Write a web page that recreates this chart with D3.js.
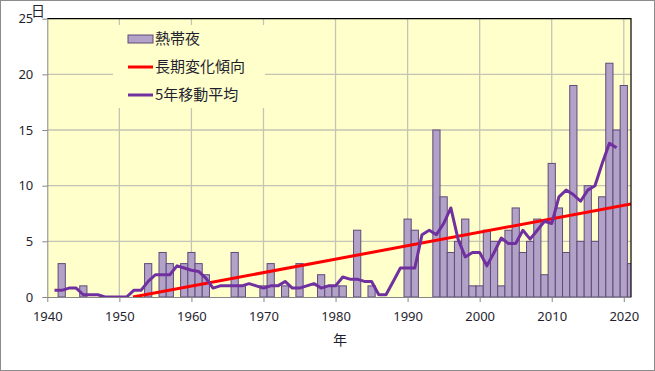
<!DOCTYPE html>
<html>
<head>
    <meta charset="UTF-8">
    <title>熱帯夜</title>
    <style>
        html, body { margin: 0; padding: 0; background: #fff; }
        text { font-family: 'Noto Sans', 'Noto Sans CJK JP', sans-serif; }
        .jp { font-family: 'Noto Sans CJK JP', sans-serif; }
    </style>
</head>
<body>
    <div id="app"></div>

    <script src="https://d3js.org/d3.v7.min.js"></script>
    <script>
        // 熱帯夜の日数 (1940-2021)
        let years = d3.range(1940, 2022)
        let nights = [
            0, 0, 3, 0, 0, 1, 0, 0, 0, 0,      // 1940-49
            0, 0, 0, 0, 3, 0, 4, 3, 0, 3,      // 1950-59
            4, 3, 2, 0, 0, 0, 4, 1, 0, 0,      // 1960-69
            1, 3, 0, 1, 0, 3, 0, 0, 2, 1,      // 1970-79
            1, 1, 0, 6, 0, 1, 0, 0, 0, 0,      // 1980-89
            7, 6, 0, 0, 15, 9, 4, 5, 7, 1,     // 1990-99
            1, 6, 5, 1, 6, 8, 4, 5, 7, 2,      // 2000-09
            12, 8, 4, 19, 5, 10, 5, 9, 21, 15, // 2010-19
            19, 3                              // 2020-21
        ]

        // 5年移動平均 (1941-2019)
        let maYears = d3.range(1941, 2020)
        let maValues = [
            0.6, 0.6, 0.8, 0.8, 0.2, 0.2, 0.2, 0, 0,          // 1941-49
            0, 0, 0.6, 0.6, 1.4, 2.0, 2.0, 2.0, 2.8, 2.6,     // 1950-59
            2.4, 2.3, 1.7, 0.8, 1.0, 1.0, 1.0, 1.0, 1.2, 1.0, // 1960-69
            0.8, 1.0, 1.0, 1.4, 0.8, 0.8, 1.0, 1.2, 0.8, 1.0, // 1970-79
            1.0, 1.8, 1.6, 1.6, 1.4, 1.4, 0.2, 0.2, 1.4, 2.6, // 1980-89
            2.6, 2.6, 5.6, 6.0, 5.6, 6.6, 8.0, 5.2, 3.6, 4.0, // 1990-99
            4.0, 2.8, 4.0, 5.3, 4.8, 4.8, 6.0, 5.2, 6.0, 6.8, // 2000-09
            6.6, 9.0, 9.6, 9.2, 8.6, 9.6, 10.0, 12.0, 13.8, 13.4 // 2010-19
        ]

        // 長期変化傾向 (端点)
        let trendYears = [1951.9, 2021]
        let trendValues = [0, 8.36]

        let xTicks = [1940, 1950, 1960, 1970, 1980, 1990, 2000, 2010, 2020]
        let yTicks = [0, 5, 10, 15, 20, 25]
        let legendLabels = ['熱帯夜', '長期変化傾向', '5年移動平均']

        let W = 655
        let H = 371
        let pL = 47.3, pR = 631, pT = 18.7, pB = 297

        let svg = d3.select('#app').append('svg')
            .attr('width', W)
            .attr('height', H)

        svg.append('rect')
            .attr('x', 0.5).attr('y', 0.5)
            .attr('width', W - 1).attr('height', H - 1)
            .attr('fill', '#fff')
            .attr('stroke', '#8c8c8c')

        let x = d3.scaleLinear().domain([1940, 2021]).range([pL, pR])
        let y = d3.scaleLinear().domain([0, 25]).range([pB, pT])
        let bw = x(1941) - x(1940)

        svg.append('clipPath').attr('id', 'plot')
            .append('rect')
            .attr('x', pL).attr('y', pT)
            .attr('width', pR - pL).attr('height', pB - pT)

        svg.append('rect')
            .attr('x', pL).attr('y', pT)
            .attr('width', pR - pL).attr('height', pB - pT)
            .attr('fill', '#ffffcc')

        // grid
        let grid = svg.append('g').attr('stroke', '#c4c4b4').attr('stroke-width', 1.3)
        grid.selectAll('.gy').data(yTicks.slice(1, -1)).enter()
            .append('line')
            .attr('x1', pL).attr('x2', pR)
            .attr('y1', d => y(d)).attr('y2', d => y(d))
        grid.selectAll('.gx').data(xTicks.slice(1)).enter()
            .append('line')
            .attr('x1', d => x(d)).attr('x2', d => x(d))
            .attr('y1', pT).attr('y2', pB)

        let plot = svg.append('g').attr('clip-path', 'url(#plot)')

        plot.selectAll('rect.bar')
            .data(years.map((yr, i) => ({ yr: yr, v: nights[i] })).filter(d => d.v > 0))
            .enter().append('rect')
            .attr('class', 'bar')
            .attr('x', d => x(d.yr) - bw / 2)
            .attr('y', d => y(d.v))
            .attr('width', bw)
            .attr('height', d => y(0) - y(d.v))
            .attr('fill', '#b3a2c7')
            .attr('stroke', '#604a7b')
            .attr('stroke-width', 1)

        let line = d3.line().x(d => x(d[0])).y(d => y(d[1]))

        plot.append('path')
            .attr('d', line(d3.zip(trendYears, trendValues)))
            .attr('fill', 'none')
            .attr('stroke', '#ff0000')
            .attr('stroke-width', 3)

        plot.append('path')
            .attr('d', line(d3.zip(maYears, maValues)))
            .attr('fill', 'none')
            .attr('stroke', '#7030a0')
            .attr('stroke-width', 3)
            .attr('stroke-linejoin', 'round')

        // plot border (top / right)
        svg.append('path')
            .attr('d', 'M' + pL + ',' + pT + 'H' + pR + 'V' + pB)
            .attr('fill', 'none')
            .attr('stroke', '#000')
            .attr('stroke-width', 1.2)

        // axes
        let xAxis = svg.append('g')
            .attr('transform', 'translate(0,' + pB + ')')
            .call(d3.axisBottom(x).tickValues(xTicks).tickFormat(d3.format('d')).tickSize(5).tickSizeOuter(0))
        let yAxis = svg.append('g')
            .attr('transform', 'translate(' + pL + ',0)')
            .call(d3.axisLeft(y).tickValues(yTicks).tickSize(5).tickSizeOuter(0))

        ;[xAxis, yAxis].forEach(a => {
            a.select('.domain').attr('stroke', '#868686')
            a.selectAll('.tick line').attr('stroke', '#868686')
            a.selectAll('.tick text')
                .attr('fill', '#1f1f2f')
                .style('font-size', '13px')
                .style('font-family', "'Noto Sans', sans-serif")
        })
        xAxis.selectAll('.tick text').attr('dy', '1.2em')
        yAxis.selectAll('.tick text').attr('x', -14)

        // 縦軸タイトル (25 の上に重なる)
        svg.append('text')
            .attr('class', 'jp')
            .attr('x', 31).attr('y', 16)
            .style('font-size', '14px')
            .attr('fill', '#1f1f2f')
            .text('日')

        svg.append('text')
            .attr('class', 'jp')
            .attr('x', 340).attr('y', 345)
            .attr('text-anchor', 'middle')
            .style('font-size', '14px')
            .attr('fill', '#1f1f2f')
            .text('年')

        // legend
        let lg = svg.append('g')
        lg.append('rect')
            .attr('x', 113).attr('y', 25)
            .attr('width', 152).attr('height', 83)
            .attr('fill', '#ffffcc')

        let items = lg.selectAll('g.item').data(legendLabels).enter()
            .append('g').attr('class', 'item')
            .attr('transform', (d, i) => 'translate(128,' + (39 + i * 28) + ')')

        items.each(function (d, i) {
            let g = d3.select(this)
            if (i === 0) {
                g.append('rect')
                    .attr('x', 0).attr('y', -4)
                    .attr('width', 25).attr('height', 8)
                    .attr('fill', '#b3a2c7')
                    .attr('stroke', '#604a7b')
            } else {
                g.append('line')
                    .attr('x1', 0).attr('x2', 25)
                    .attr('stroke', i === 1 ? '#ff0000' : '#7030a0')
                    .attr('stroke-width', 3)
            }
            g.append('text')
                .attr('class', 'jp')
                .attr('x', 27).attr('y', 0)
                .attr('dy', '0.36em')
                .style('font-size', '15px')
                .attr('fill', '#1f1f2f')
                .text(d)
        })
    </script>
</body>
</html>
